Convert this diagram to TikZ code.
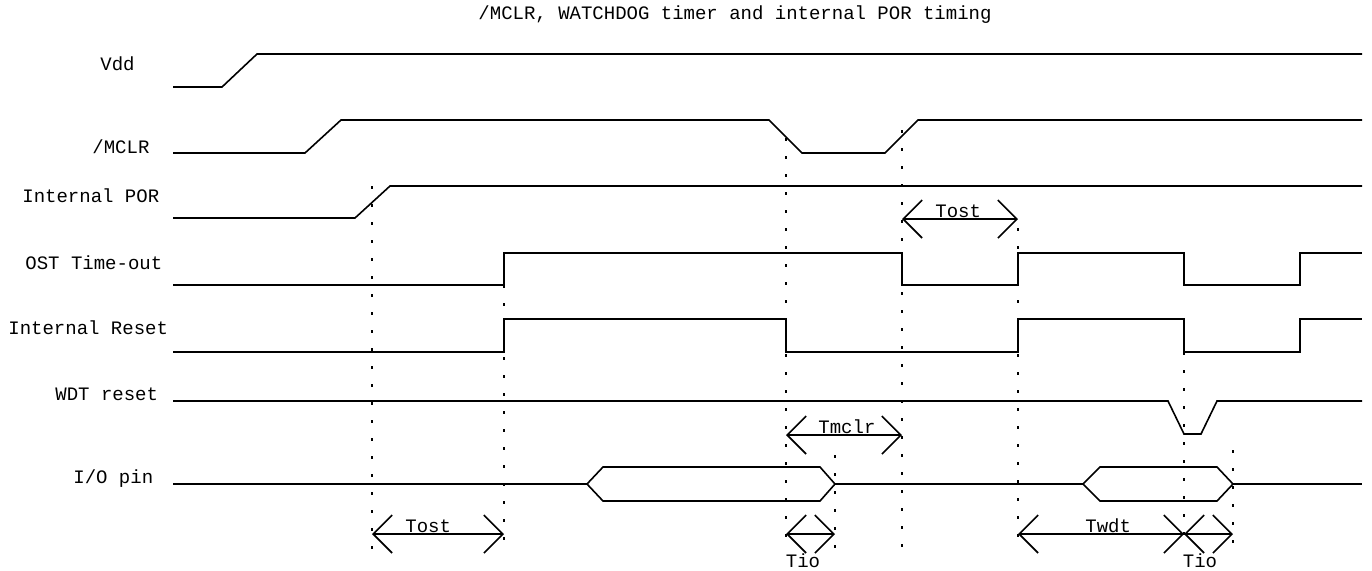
\documentclass[tikz,border=0pt]{standalone}
\usepackage{fontspec}
\setmainfont{Liberation Mono}
\usetikzlibrary{arrows.meta}
\begin{document}
\begin{tikzpicture}[x=0.5pt,y=-0.5pt,
  sig/.style={line width=0.8pt, line join=miter},
  guide/.style={line width=0.6pt, dash pattern=on 1.5pt off 7.5pt},
  dim/.style={line width=0.8pt, {Straight Barb[length=9.5pt,width=19pt]}-{Straight Barb[length=9.5pt,width=19pt]}},
  lbl/.style={anchor=base west, inner sep=0pt, font=\fontsize{9.5pt}{11pt}\selectfont},
  dlbl/.style={anchor=base west, inner sep=0pt, font=\fontsize{9.5pt}{11pt}\selectfont},
  clbl/.style={anchor=base, inner sep=0pt, font=\fontsize{9.5pt}{11pt}\selectfont},
]
\useasboundingbox (0,0) rectangle (1372,570);

% title
\node[clbl] (title) at (735,19) {/MCLR, WATCHDOG timer and internal POR timing};

% signal names
\node[lbl] (nvdd)  at (100,70)  {Vdd};
\node[lbl] (nmclr) at (92,153)  {/MCLR};
\node[lbl] (npor)  at (22,202)  {Internal POR};
\node[lbl] (nost)  at (25,269)  {OST Time-out};
\node[lbl] (nrst)  at (8,334)   {Internal Reset};
\node[lbl] (nwdt)  at (55,400)  {WDT reset};
\node[lbl] (nio)   at (73,483)  {I/O pin};

% guide lines
\draw[guide] (372,186) -- (372,550);
\draw[guide] (504,285) -- (504,550);
\draw[guide] (786,138) -- (786,550);
\draw[guide] (835,455) -- (835,550);
\draw[guide] (902,130) -- (902,550);
\draw[guide] (1018,228) -- (1018,550);
\draw[guide] (1184,352) -- (1184,550);
\draw[guide] (1233,450) -- (1233,550);

% Vdd
\draw[sig] (173,87) -- (222,87) -- (257,54) -- (1362,54);
% /MCLR
\draw[sig] (173,153) -- (305,153) -- (341,120) -- (769,120) -- (802,153) -- (885,153) -- (918,120) -- (1362,120);
% Internal POR
\draw[sig] (173,218) -- (355,218) -- (390,186) -- (1362,186);
% OST Time-out
\draw[sig] (173,285) -- (504,285) -- (504,253) -- (902,253) -- (902,285) -- (1018,285) -- (1018,253)
  -- (1184,253) -- (1184,285) -- (1300,285) -- (1300,253) -- (1362,253);
% Internal Reset
\draw[sig] (173,352) -- (504,352) -- (504,319) -- (786,319) -- (786,352) -- (1018,352) -- (1018,319)
  -- (1184,319) -- (1184,352) -- (1300,352) -- (1300,319) -- (1362,319);
% WDT reset
\draw[sig] (173,401) -- (1168,401) -- (1184,434) -- (1201,434) -- (1217,401) -- (1362,401);
% I/O pin
\draw[sig] (173,484) -- (587,484);
\draw[sig] (587,484) -- (603,467) -- (820,467) -- (835,484) -- (820,501) -- (603,501) -- cycle;
\draw[sig] (835,484) -- (1083,484);
\draw[sig] (1083,484) -- (1100,467) -- (1217,467) -- (1233,484) -- (1217,501) -- (1100,501) -- cycle;
\draw[sig] (1233,484) -- (1362,484);

% timing arrows
\draw[dim] (372,534) -- (504,534);
\node[dlbl] (ltost1) at (405,532) {Tost};
\draw[dim] (902,219) -- (1018,219);
\node[dlbl] (ltost2) at (935,217) {Tost};
\draw[dim] (786,435) -- (902,435);
\node[dlbl] (ltmclr) at (818,433) {Tmclr};
\draw[dim] (786,534) -- (835,534);
\node[clbl] (ltio1) at (803,567) {Tio};
\draw[dim] (1018,534) -- (1184,534);
\node[dlbl] (ltwdt) at (1085,532) {Twdt};
\draw[dim] (1184,534) -- (1233,534);
\node[clbl] (ltio2) at (1200,567) {Tio};
\end{tikzpicture}
\end{document}
